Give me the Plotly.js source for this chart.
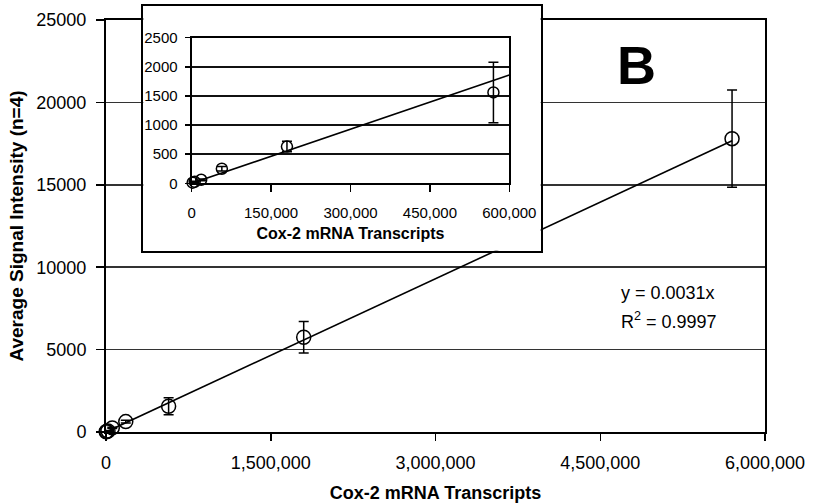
<!DOCTYPE html>
<html>
<head>
<meta charset="utf-8">
<script src="https://cdn.plot.ly/plotly-3.0.1.min.js"></script>
<style>html,body{margin:0;padding:0;background:#fff}#chart{width:814px;height:503px}</style>
</head>
<body>
<div id="chart"></div>
<script>
// ---- data ----
var transcripts = [1800, 5700, 18000, 57000, 180000, 570000, 1800000, 5700000];
var signal      = [10, 25, 60, 250, 630, 1560, 5750, 17800];
var signalErr   = [5, 10, 15, 40, 90, 520, 950, 2950];
var slope = 0.0031;
var mainTrendX = [0, 5700000];
var insetTrendX = [0, 600000];
var insetMaxX = 600000;
var mainXTicks = [0, 1500000, 3000000, 4500000, 6000000];
var insetXTicks = [0, 150000, 300000, 450000, 600000];
var equationText = 'y = 0.0031x';
var r2Text = 'R<sup>2</sup> = 0.9997';
var panelLabel = 'B';

var FONT = 'Liberation Sans, Arial, sans-serif';

var insetIdx = transcripts.map(function(v,i){return i;}).filter(function(i){return transcripts[i] <= insetMaxX;});
var insetX = insetIdx.map(function(i){return transcripts[i];});
var insetY = insetIdx.map(function(i){return signal[i];});
var insetE = insetIdx.map(function(i){return signalErr[i];});

function trend(xs){return xs.map(function(x){return slope*x;});}

var markerStyle = function(sz){return {symbol:'circle-open', size:sz, color:'#000', line:{color:'#000', width:1.5}};};

var traces = [
  {x: mainTrendX, y: trend(mainTrendX), mode:'lines', line:{color:'#000', width:1.6}, xaxis:'x', yaxis:'y', hoverinfo:'skip'},
  {x: transcripts, y: signal, mode:'markers', marker: markerStyle(14), cliponaxis:false,
   error_y:{type:'data', array: signalErr, visible:true, color:'#000', thickness:1.5, width:5},
   xaxis:'x', yaxis:'y'},
  {x: [], y: [], mode:'markers', xaxis:'x2', yaxis:'y2', hoverinfo:'skip'},
  {x: insetTrendX, y: trend(insetTrendX), mode:'lines', line:{color:'#000', width:1.6}, xaxis:'x3', yaxis:'y3', hoverinfo:'skip'},
  {x: insetX, y: insetY, mode:'markers', marker: markerStyle(11), cliponaxis:false,
   error_y:{type:'data', array: insetE, visible:true, color:'#000', thickness:1.5, width:5},
   xaxis:'x3', yaxis:'y3'}
];

var boxAxis = {range:[0,1], showline:true, mirror:true, linewidth:2, linecolor:'#000', ticks:'', showticklabels:false, showgrid:false, zeroline:false, fixedrange:true};

var layout = {
  width: 814, height: 503,
  margin: {l:106, r:49, t:4, b:71, pad:0},
  paper_bgcolor:'#fff', plot_bgcolor:'#fff',
  showlegend:false,
  font:{family:FONT, color:'#000'},
  xaxis: {domain:[0,1], range:[0,6000000], tickvals: mainXTicks, tickformat:',', ticks:'outside', ticklen:7, tickwidth:1.5, tickcolor:'#000',
          showline:true, linewidth:2, linecolor:'#000', mirror:true, showgrid:false, zeroline:false,
          tickfont:{size:18, family:FONT}, ticklabelstandoff:6,
          title:{text:'Cox-2 mRNA Transcripts', font:{size:18, family:FONT, weight:'bold'}, standoff:18}},
  yaxis: {domain:[0,0.9626], range:[0,25000], dtick:5000, tickformat:'d', ticks:'outside', ticklen:8, tickwidth:1.5, tickcolor:'#000',
          showline:true, linewidth:2, linecolor:'#000', mirror:true, showgrid:true, gridcolor:'#333', gridwidth:1.5, zeroline:false,
          tickfont:{size:18, family:FONT}, ticklabelstandoff:6,
          title:{text:'Average Signal Intensity (n=4)', font:{size:19, family:FONT, weight:'bold'}, standoff:8}},
  xaxis2: Object.assign({domain:[0.0566,0.6596], anchor:'y2'}, boxAxis),
  yaxis2: Object.assign({domain:[0.4236,0.9960], anchor:'x2'}, boxAxis),
  xaxis3: {domain:[0.1300,0.6120], anchor:'y3', range:[0,600000], tickvals: insetXTicks, tickformat:',', ticks:'outside', ticklen:7, tickwidth:1.5, tickcolor:'#000',
           showline:true, linewidth:2, linecolor:'#000', mirror:true, showgrid:false, zeroline:false,
           tickfont:{size:15, family:FONT}, ticklabelstandoff:8,
           title:{text:'Cox-2 mRNA Transcripts', font:{size:16, family:FONT, weight:'bold'}, standoff:8}},
  yaxis3: {domain:[0.5811,0.9213], anchor:'x3', range:[0,2500], dtick:500, tickformat:'d', ticks:'outside', ticklen:5, tickwidth:1.5, tickcolor:'#000',
           showline:true, linewidth:2, linecolor:'#000', mirror:true, showgrid:true, gridcolor:'#111', gridwidth:1.5, zeroline:false,
           tickfont:{size:15, family:FONT}, ticklabelstandoff:4},
  annotations: [
    {text: panelLabel, xref:'paper', yref:'paper', x:0.8057, y:0.8575, xanchor:'center', yanchor:'middle', showarrow:false,
     font:{size:54, family:FONT, weight:'bold', color:'#000'}},
    {text: equationText, xref:'paper', yref:'paper', x:0.778, y:0.3241, xanchor:'left', yanchor:'middle', showarrow:false,
     font:{size:18, family:FONT, color:'#000'}},
    {text: r2Text, xref:'paper', yref:'paper', x:0.778, y:0.2600, xanchor:'left', yanchor:'middle', showarrow:false,
     font:{size:18, family:FONT, color:'#000'}}
  ]
};

Plotly.newPlot('chart', traces, layout, {staticPlot:true, displayModeBar:false});
</script>
</body>
</html>
